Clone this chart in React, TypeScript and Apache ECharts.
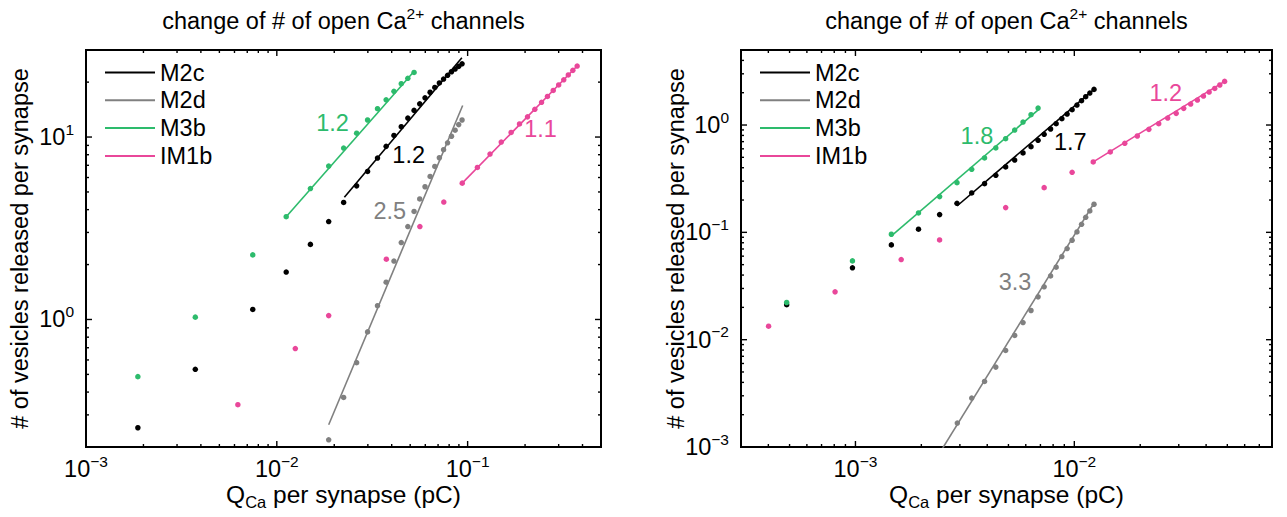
import React, { useEffect, useRef } from 'react';
import * as echarts from 'echarts';

const FONT = '"Liberation Sans", Arial, Helvetica, sans-serif';
const BLACK = '#000000';
const GRAY = '#808080';
const GREEN = '#2dbb6c';
const PINK = '#e9479a';

const NAMES = ['M2c', 'M2d', 'M3b', 'IM1b'];
const COLORS = [BLACK, GRAY, GREEN, PINK];

// ---------- left panel ----------
const L_XLIM = [0.001, 0.5];
const L_YLIM = [0.2, 30];
const L_X_DECADES = [-3, -2, -1];
const L_Y_DECADES = [0, 1];

const L_M2c_x = [0.00187, 0.00374, 0.00748, 0.0112, 0.015, 0.0187, 0.0224, 0.0262, 0.0299, 0.0337, 0.0374, 0.0411, 0.0449, 0.0486, 0.0524, 0.0561, 0.0598, 0.0636, 0.0673, 0.0711, 0.0748, 0.0785, 0.0823, 0.086, 0.0898, 0.0935];
const L_M2c_y = [0.255, 0.533, 1.135, 1.82, 2.58, 3.44, 4.38, 5.4, 6.48, 7.67, 8.89, 10.2, 11.4, 12.7, 14.0, 15.2, 16.4, 17.6, 18.7, 19.8, 20.8, 21.8, 22.8, 23.6, 24.4, 25.2];
const L_M2c_fit = [[0.0226, 4.68], [0.0933, 27.2]];

const L_M2d_x = [0.0187, 0.0224, 0.0262, 0.0299, 0.0337, 0.0374, 0.0411, 0.0449, 0.0486, 0.0524, 0.0561, 0.0598, 0.0636, 0.0673, 0.0711, 0.0748, 0.0785, 0.0823, 0.086, 0.0898, 0.0935];
const L_M2d_y = [0.219, 0.374, 0.58, 0.855, 1.19, 1.6, 2.09, 2.64, 3.23, 3.91, 4.58, 5.34, 6.08, 6.9, 7.7, 8.52, 9.3, 10.1, 10.9, 11.7, 12.4];
const L_M2d_fit = [[0.0187, 0.265], [0.0942, 14.9]];

const L_M3b_x = [0.00187, 0.00374, 0.00748, 0.0112, 0.015, 0.0187, 0.0224, 0.0262, 0.0299, 0.0337, 0.0374, 0.0411, 0.0449, 0.0486, 0.0524];
const L_M3b_y = [0.486, 1.03, 2.26, 3.66, 5.22, 6.93, 8.7, 10.5, 12.4, 14.3, 16.0, 17.8, 19.6, 21.0, 22.6];
const L_M3b_fit = [[0.0112, 3.66], [0.0526, 23.0]];

const L_IM1b_x = [0.00625, 0.0125, 0.0187, 0.0375, 0.0562, 0.075, 0.0937, 0.1125, 0.131, 0.15, 0.169, 0.187, 0.206, 0.225, 0.244, 0.262, 0.281, 0.3, 0.319, 0.337, 0.356, 0.375];
const L_IM1b_y = [0.341, 0.693, 1.05, 2.14, 3.23, 4.4, 5.59, 6.81, 8.07, 9.39, 10.6, 11.8, 12.9, 14.2, 15.5, 16.7, 18.0, 19.3, 20.6, 21.9, 23.2, 24.5];
const L_IM1b_fit = [[0.0937, 5.59], [0.375, 24.5]];

const L_SLOPE_TEXT = ['1.2', '2.5', '1.2', '1.1'];
const L_SLOPE_AT = [[0.0491, 8.0], [0.0391, 3.94], [0.0196, 12.0], [0.241, 11.0]];

// ---------- right panel ----------
const R_XLIM = [0.0003, 0.08];
const R_YLIM = [0.001, 5];
const R_X_DECADES = [-3, -2];
const R_Y_DECADES = [-3, -2, -1, 0];

const R_M2c_x = [0.000485, 0.000969, 0.001459, 0.001941, 0.002424, 0.00291, 0.003397, 0.003889, 0.004378, 0.004855, 0.005339, 0.005829, 0.00634, 0.00683, 0.00728, 0.00779, 0.00826, 0.00877, 0.00927, 0.00977, 0.01028, 0.01079, 0.01127, 0.01177, 0.0123];
const R_M2c_y = [0.0212, 0.0467, 0.0764, 0.1069, 0.1463, 0.1866, 0.2328, 0.2844, 0.34, 0.4065, 0.472, 0.549, 0.628, 0.72, 0.819, 0.918, 1.029, 1.145, 1.266, 1.389, 1.536, 1.685, 1.835, 1.986, 2.148];
const R_M2c_fit = [[0.00291, 0.176], [0.01245, 2.19]];

const R_M2d_x = [0.00292, 0.003397, 0.003889, 0.004378, 0.004855, 0.005339, 0.005829, 0.00634, 0.00683, 0.00728, 0.00779, 0.00826, 0.00877, 0.00927, 0.00977, 0.01028, 0.01079, 0.01127, 0.01177, 0.0123];
const R_M2d_y = [0.00167, 0.002856, 0.00408, 0.00555, 0.00793, 0.01094, 0.01445, 0.0187, 0.02506, 0.0311, 0.0393, 0.0473, 0.0595, 0.0706, 0.0844, 0.1009, 0.1189, 0.1382, 0.1583, 0.1827];
const R_M2d_fit = [[0.00243, 0.000885], [0.0123, 0.1866]];

const R_M3b_x = [0.000485, 0.000969, 0.001459, 0.001941, 0.002424, 0.00291, 0.003397, 0.003889, 0.004378, 0.004855, 0.005339, 0.005829, 0.00634, 0.00683];
const R_M3b_y = [0.0222, 0.0542, 0.096, 0.1517, 0.2153, 0.2905, 0.3867, 0.493, 0.611, 0.746, 0.898, 1.066, 1.248, 1.44];
const R_M3b_fit = [[0.00146, 0.0926], [0.00688, 1.4]];

const R_IM1b_x = [0.000401, 0.000807, 0.001618, 0.002423, 0.004857, 0.00728, 0.00977, 0.0122, 0.0146, 0.017, 0.0194, 0.0219, 0.0243, 0.0267, 0.0292, 0.0316, 0.034, 0.0365, 0.0389, 0.0413, 0.0438, 0.0462, 0.0486];
const R_IM1b_y = [0.01336, 0.0279, 0.0558, 0.085, 0.17, 0.261, 0.3626, 0.453, 0.561, 0.675, 0.79, 0.911, 1.029, 1.162, 1.284, 1.43, 1.569, 1.708, 1.862, 2.03, 2.19, 2.36, 2.55];
const R_IM1b_fit = [[0.0122, 0.453], [0.0486, 2.55]];

const R_SLOPE_TEXT = ['1.7', '3.3', '1.8', '1.2'];
const R_SLOPE_AT = [[0.00959, 0.694], [0.00536, 0.0344], [0.00359, 0.79], [0.02615, 1.99]];

const TITLE = 'change of # of open Ca{sup|2+} channels';
const XLABEL = 'Q{sub|Ca} per synapse (pC)';
const YLABEL = '# of vesicles released per synapse';

// ---------- layout ----------
const GRIDS = [
  { left: 86, top: 50, width: 515, height: 397 },
  { left: 741, top: 50, width: 531, height: 397 },
];
const FS = 23.5;

const SUP_RICH = {
  sup: { fontSize: 15.5, lineHeight: 12, verticalAlign: 'top', fontFamily: FONT, color: '#000' },
};

function decadeFormatter(decades: number[]) {
  return (v: number) => {
    const l = Math.log10(v);
    const e = Math.round(l);
    if (Math.abs(l - e) > 1e-6 || decades.indexOf(e) < 0) return '';
    return '10{sup|' + (e < 0 ? '\u2212' + -e : String(e)) + '}';
  };
}

function zip(xs: number[], ys: number[]) {
  return xs.map((x, i) => [x, ys[i]]);
}

function tickData(xlim: number[], ylim: number[]) {
  const out: number[][] = [];
  const gen = (lim: number[]) => {
    const vals: [number, boolean][] = [];
    for (let e = Math.floor(Math.log10(lim[0])); e <= Math.ceil(Math.log10(lim[1])); e++) {
      for (let m = 1; m <= 9; m++) {
        const v = m * Math.pow(10, e);
        if (v > lim[0] * 1.0001 && v < lim[1] * 0.9999) vals.push([v, m === 1]);
      }
    }
    return vals;
  };
  gen(xlim).forEach(([v, maj]) => out.push([v, ylim[0], maj ? 0 : 1]));
  gen(ylim).forEach(([v, maj]) => out.push([xlim[0], v, maj ? 2 : 3]));
  return out;
}

function tickSeries(gi: number, xlim: number[], ylim: number[]) {
  return {
    type: 'custom',
    xAxisIndex: gi,
    yAxisIndex: gi,
    silent: true,
    clip: false,
    z: 10,
    encode: { x: 0, y: 1 },
    data: tickData(xlim, ylim),
    renderItem: (params: any, api: any) => {
      const xv = api.value(0);
      const yv = api.value(1);
      const k = api.value(2);
      const len = k === 0 || k === 2 ? 6 : 3;
      const st = { stroke: '#000', lineWidth: 1.4 };
      if (k < 2) {
        const a = api.coord([xv, ylim[0]]);
        const b = api.coord([xv, ylim[1]]);
        return {
          type: 'group',
          children: [
            { type: 'line', shape: { x1: a[0], y1: a[1], x2: a[0], y2: a[1] - len }, style: st },
            { type: 'line', shape: { x1: b[0], y1: b[1], x2: b[0], y2: b[1] + len }, style: st },
          ],
        };
      }
      const a = api.coord([xlim[0], yv]);
      const b = api.coord([xlim[1], yv]);
      return {
        type: 'group',
        children: [
          { type: 'line', shape: { x1: a[0], y1: a[1], x2: a[0] + len, y2: a[1] }, style: st },
          { type: 'line', shape: { x1: b[0], y1: b[1], x2: b[0] - len, y2: b[1] }, style: st },
        ],
      };
    },
  };
}

function panelSeries(gi: number, pts: number[][][], fits: number[][][]) {
  const out: any[] = [];
  fits.forEach((f, i) => {
    out.push({
      name: NAMES[i],
      type: 'line',
      xAxisIndex: gi,
      yAxisIndex: gi,
      data: f,
      symbol: 'none',
      showSymbol: false,
      clip: true,
      lineStyle: { color: COLORS[i], width: 1.6 },
      itemStyle: { color: COLORS[i] },
      z: 3,
    });
  });
  pts.forEach((p, i) => {
    out.push({
      name: NAMES[i] + ' data',
      type: 'scatter',
      xAxisIndex: gi,
      yAxisIndex: gi,
      data: p,
      symbol: 'circle',
      symbolSize: 5.5,
      itemStyle: { color: COLORS[i], opacity: 1 },
      z: 4,
    });
  });
  return out;
}

function axis(gi: number, lim: number[], decades: number[], isX: boolean) {
  return {
    type: 'log',
    logBase: 10,
    gridIndex: gi,
    min: lim[0],
    max: lim[1],
    axisLine: { show: false },
    axisTick: { show: false },
    minorTick: { show: false },
    splitLine: { show: false },
    axisLabel: {
      formatter: decadeFormatter(decades),
      rich: SUP_RICH,
      fontSize: FS,
      lineHeight: 32,
      fontFamily: FONT,
      color: '#000',
      margin: isX ? 6 : 12,
      showMinLabel: true,
      showMaxLabel: true,
    },
  };
}

function legend(left: number) {
  return {
    data: NAMES,
    orient: 'vertical',
    left,
    top: 60.5,
    padding: 0,
    itemGap: 3.8,
    itemWidth: 50,
    itemHeight: 2,
    icon: 'rect',
    selectedMode: false,
    textStyle: { fontSize: FS, lineHeight: 24, fontFamily: FONT, color: '#000' },
  };
}

function buildOption() {
  return {
    animation: false,
    backgroundColor: '#ffffff',
    grid: GRIDS.map((g) => ({ ...g, show: true, borderColor: '#000', borderWidth: 2, backgroundColor: 'transparent' })),
    xAxis: [axis(0, L_XLIM, L_X_DECADES, true), axis(1, R_XLIM, R_X_DECADES, true)],
    yAxis: [axis(0, L_YLIM, L_Y_DECADES, false), axis(1, R_YLIM, R_Y_DECADES, false)],
    legend: [legend(105), legend(760)],
    series: [
      ...panelSeries(
        0,
        [zip(L_M2c_x, L_M2c_y), zip(L_M2d_x, L_M2d_y), zip(L_M3b_x, L_M3b_y), zip(L_IM1b_x, L_IM1b_y)],
        [L_M2c_fit, L_M2d_fit, L_M3b_fit, L_IM1b_fit]
      ),
      ...panelSeries(
        1,
        [zip(R_M2c_x, R_M2c_y), zip(R_M2d_x, R_M2d_y), zip(R_M3b_x, R_M3b_y), zip(R_IM1b_x, R_IM1b_y)],
        [R_M2c_fit, R_M2d_fit, R_M3b_fit, R_IM1b_fit]
      ),
      tickSeries(0, L_XLIM, L_YLIM),
      tickSeries(1, R_XLIM, R_YLIM),
    ],
  };
}

function buildGraphics(chart: any) {
  const g: any[] = [];
  GRIDS.forEach((gr, gi) => {
    const cx = gr.left + gr.width / 2;
    const cy = gr.top + gr.height / 2;
    g.push({
      type: 'text',
      x: cx,
      y: 21,
      silent: true,
      style: {
        text: TITLE,
        fontSize: FS,
        fontFamily: FONT,
        lineHeight: 32,
        fill: '#000',
        align: 'center',
        verticalAlign: 'middle',
        rich: { sup: { fontSize: 15.5, lineHeight: 12, verticalAlign: 'top', fontFamily: FONT, fill: '#000' } },
      },
    });
    g.push({
      type: 'text',
      x: cx,
      y: 494,
      silent: true,
      style: {
        text: XLABEL,
        fontSize: 24.5,
        fontFamily: FONT,
        lineHeight: 32,
        fill: '#000',
        align: 'center',
        verticalAlign: 'middle',
        rich: { sub: { fontSize: 16.5, lineHeight: 12, verticalAlign: 'bottom', fontFamily: FONT, fill: '#000' } },
      },
    });
    g.push({
      type: 'text',
      x: gi === 0 ? 20 : 676,
      y: cy,
      rotation: Math.PI / 2,
      silent: true,
      style: {
        text: YLABEL,
        fontSize: FS,
        fontFamily: FONT,
        fill: '#000',
        align: 'center',
        verticalAlign: 'middle',
      },
    });
  });
  const addSlopes = (gi: number, texts: string[], at: number[][]) => {
    texts.forEach((t, i) => {
      const p = chart.convertToPixel({ gridIndex: gi }, at[i]);
      g.push({
        type: 'text',
        x: p[0],
        y: p[1],
        silent: true,
        z: 20,
        style: {
          text: t,
          fontSize: FS,
          fontFamily: FONT,
          fill: COLORS[i],
          align: 'center',
          verticalAlign: 'middle',
        },
      });
    });
  };
  addSlopes(0, L_SLOPE_TEXT, L_SLOPE_AT);
  addSlopes(1, R_SLOPE_TEXT, R_SLOPE_AT);
  return g;
}

export default function App() {
  const ref = useRef<HTMLDivElement>(null);
  useEffect(() => {
    if (!ref.current) return;
    const chart = echarts.init(ref.current, null, { renderer: 'svg' });
    chart.setOption(buildOption() as any);
    chart.setOption({ graphic: buildGraphics(chart) } as any);
    return () => {
      chart.dispose();
    };
  }, []);
  return (
    <div
      ref={ref}
      style={{ position: 'fixed', left: 0, top: 0, width: 1287, height: 517, background: '#fff' }}
    />
  );
}
